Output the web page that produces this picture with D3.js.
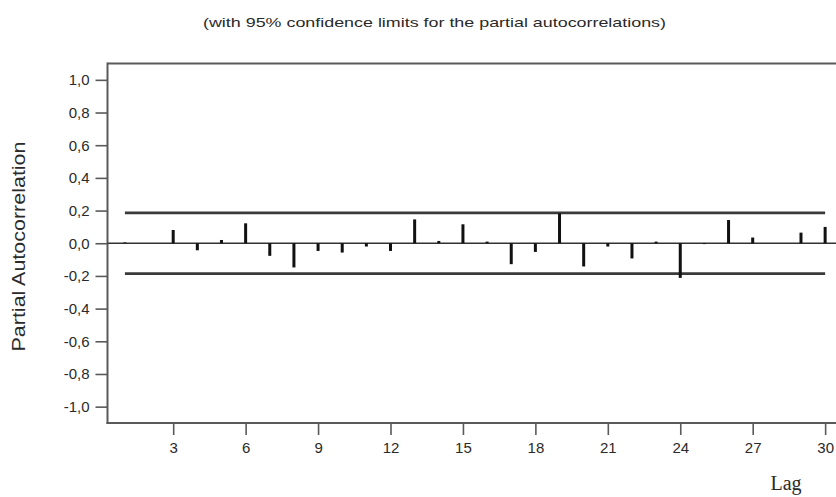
<!DOCTYPE html>
<html>
<head>
<meta charset="utf-8">
<script src="https://cdn.jsdelivr.net/npm/d3@7/dist/d3.min.js"></script>
<style>
  body { margin: 0; background: #fff; }
  svg { display: block; }
</style>
</head>
<body>
<svg id="chart" width="836" height="497"></svg>
<script>
// Partial autocorrelation function, lags 1..30
const lags = d3.range(1, 31);
const pacf = [
  0.005, 0.000, 0.081, -0.043, 0.020, 0.122, -0.077, -0.148, -0.047, -0.057,
  -0.020, -0.047, 0.146, 0.014, 0.116, 0.010, -0.128, -0.053, 0.183, -0.142,
  -0.020, -0.093, 0.010, -0.212, -0.005, 0.142, 0.035, 0.000, 0.065, 0.100
];
// 95% confidence limit (±)
const confLimit = 0.186;

const yTicks = [1.0, 0.8, 0.6, 0.4, 0.2, 0.0, -0.2, -0.4, -0.6, -0.8, -1.0];
const xTicks = [3, 6, 9, 12, 15, 18, 21, 24, 27, 30];

const titleText = "(with 95% confidence limits for the partial autocorrelations)";
const yTitleText = "Partial Autocorrelation";
const xTitleText = "Lag";

// ---- layout ----
const W = 836, H = 497;
const plot = { left: 107.5, right: 836, top: 63.5, bottom: 423 };

const svg = d3.select("#chart");

const x = d3.scaleLinear().domain([0.3, 30.45]).range([plot.left + 0.5, plot.right]);
const y = d3.scaleLinear().domain([-1.1, 1.1]).range([plot.bottom, plot.top]);

// decimal comma, plain hyphen minus
const locale = d3.formatLocale({
  decimal: ",", thousands: ".", grouping: [3], currency: ["", ""], minus: "-"
});
const fmt = locale.format(".1f");

const axisColor = "#5a5a5a";
const textColor = "#2a2a2a";

// ---- frame: left axis, bottom axis, top rule ----
const frame = svg.append("g").attr("stroke", axisColor).attr("stroke-width", 2).attr("fill", "none");
frame.append("line")
  .attr("x1", plot.left).attr("x2", plot.right)
  .attr("y1", plot.top).attr("y2", plot.top);
frame.append("line")
  .attr("x1", plot.left).attr("x2", plot.left)
  .attr("y1", plot.top - 1).attr("y2", plot.bottom + 1);
frame.append("line")
  .attr("x1", plot.left - 1).attr("x2", plot.right)
  .attr("y1", plot.bottom).attr("y2", plot.bottom);

// ---- y axis ----
const yAxis = d3.axisLeft(y)
  .tickValues(yTicks)
  .tickSize(12)
  .tickPadding(6)
  .tickFormat(fmt);

const gy = svg.append("g")
  .attr("transform", `translate(${plot.left},0)`)
  .call(yAxis);
gy.select(".domain").remove();
gy.selectAll(".tick line").attr("stroke", axisColor).attr("stroke-width", 1.6);
gy.selectAll(".tick text")
  .attr("fill", textColor)
  .style("font-family", "'Liberation Sans', Arial, sans-serif")
  .style("font-size", "15px");

// ---- x axis ----
const xAxis = d3.axisBottom(x)
  .tickValues(xTicks)
  .tickSize(12)
  .tickPadding(7)
  .tickFormat(d3.format("d"));

const gx = svg.append("g")
  .attr("transform", `translate(0,${plot.bottom})`)
  .call(xAxis);
gx.select(".domain").remove();
gx.selectAll(".tick line").attr("stroke", axisColor).attr("stroke-width", 1.6);
gx.selectAll(".tick text")
  .attr("fill", textColor)
  .style("font-family", "'Liberation Sans', Arial, sans-serif")
  .style("font-size", "15px");

// ---- zero line ----
svg.append("line")
  .attr("x1", plot.left).attr("x2", plot.right)
  .attr("y1", y(0)).attr("y2", y(0))
  .attr("stroke", "#333")
  .attr("stroke-width", 1.5);

// ---- confidence limits ----
const confG = svg.append("g").attr("stroke", "#3a3a3a").attr("stroke-width", 2.6);
[confLimit, -confLimit].forEach(c => {
  confG.append("line")
    .attr("x1", x(lags[0])).attr("x2", x(lags[lags.length - 1]))
    .attr("y1", y(c)).attr("y2", y(c));
});

// ---- PACF bars (needles) ----
const data = lags.map((lag, i) => ({ lag, value: pacf[i] }));
svg.append("g")
  .selectAll("rect")
  .data(data)
  .join("rect")
  .attr("x", d => x(d.lag) - 1.5)
  .attr("width", 3)
  .attr("y", d => Math.min(y(d.value), y(0)))
  .attr("height", d => Math.abs(y(d.value) - y(0)))
  .attr("fill", "#111");

// ---- titles ----
svg.append("text")
  .attr("x", 203).attr("y", 27)
  .attr("textLength", 463)
  .attr("lengthAdjust", "spacingAndGlyphs")
  .attr("fill", textColor)
  .style("font-family", "'Liberation Sans', Arial, sans-serif")
  .style("font-size", "13px")
  .text(titleText);

svg.append("text")
  .attr("transform", `translate(25,${(140 + 353) / 2}) rotate(-90)`)
  .attr("text-anchor", "middle")
  .attr("textLength", 210)
  .attr("lengthAdjust", "spacingAndGlyphs")
  .attr("fill", textColor)
  .style("font-family", "'Liberation Sans', Arial, sans-serif")
  .style("font-size", "19px")
  .text(yTitleText);

svg.append("text")
  .attr("x", 786).attr("y", 490)
  .attr("text-anchor", "middle")
  .attr("fill", textColor)
  .style("font-family", "'Liberation Serif', 'Times New Roman', serif")
  .style("font-size", "20px")
  .text(xTitleText);
</script>
</body>
</html>
